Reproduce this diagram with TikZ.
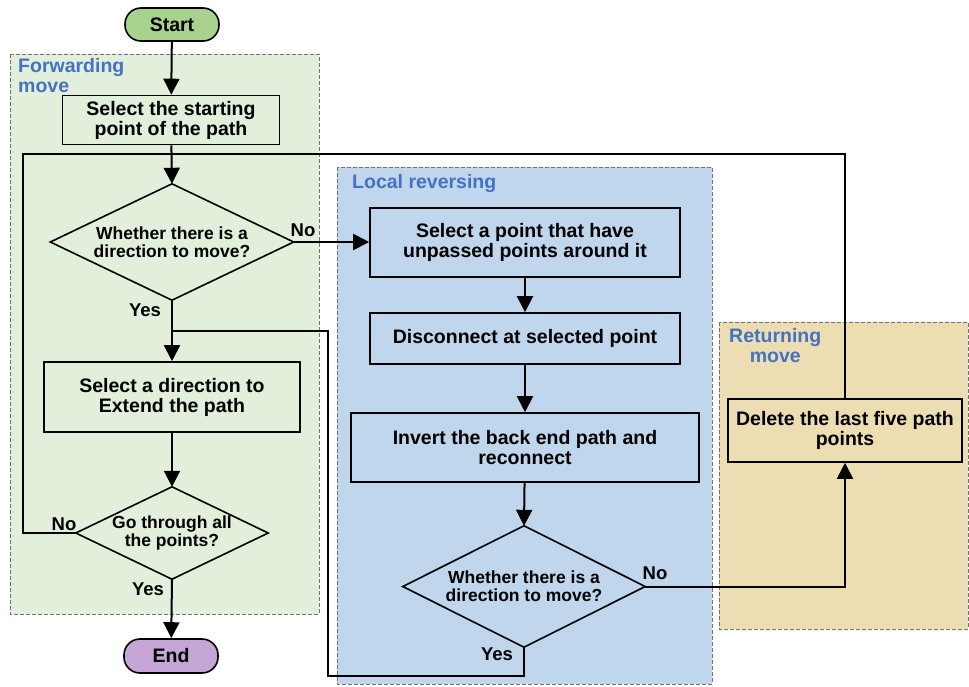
\documentclass[tikz,border=0pt]{standalone}
\usepackage{fontspec}
\setmainfont{Liberation Sans}
\usetikzlibrary{arrows.meta}
\definecolor{fwd}{RGB}{226,239,218}
\definecolor{loc}{RGB}{191,214,236}
\definecolor{ret}{RGB}{236,221,179}
\definecolor{startc}{RGB}{169,209,142}
\definecolor{endc}{RGB}{197,166,214}
\definecolor{lab}{RGB}{68,114,196}
\begin{document}
\begin{tikzpicture}[x=1pt,y=-1pt,
  region/.style={draw=black!55, dash pattern=on 4pt off 2pt, line width=0.8pt},
  proc/.style={draw, line width=1.6pt, align=center, inner sep=0pt,
    font=\bfseries\fontsize{19.5}{20}\selectfont},
  term/.style={draw, line width=1.6pt, rounded corners=16pt, inner sep=0pt,
    minimum width=94pt, minimum height=33pt,
    font=\bfseries\fontsize{19.5}{20}\selectfont},
  dbox/.style={align=center, inner sep=0pt,
    font=\bfseries\fontsize{17.5}{18}\selectfont},
  dline/.style={line width=1.6pt, line join=miter},
  lbl/.style={inner sep=0pt, font=\bfseries\fontsize{18.5}{20}\selectfont},
  rlabel/.style={text=lab, inner sep=0pt, anchor=north west,
    font=\bfseries\fontsize{19.5}{20}\selectfont},
  conn/.style={line width=2pt, line join=miter},
  arr/.style={conn, -{Triangle[width=16pt,length=16pt]}},
]
\useasboundingbox (0,0) rectangle (969,686);
% regions
\filldraw[region, fill=fwd] (10,54) rectangle (319,614);
\filldraw[region, fill=loc] (337,167) rectangle (712,684);
\filldraw[region, fill=ret] (719,322) rectangle (968,629);
\node[rlabel, align=left] (lf) at (18,58) {Forwarding\\move};
\node[rlabel, align=left] (ll) at (352,174) {Local reversing};
\node[rlabel, align=center] (lr) at (729,328) {Returning\\move};
% nodes
\node[term, fill=startc] (start) at (172,24.5) {Start};
\node[proc, minimum width=217pt, minimum height=49pt] (b1) at (171,120) {Select the starting\\point of the path};
\node[dbox, minimum width=243pt, minimum height=116pt] (d1) at (172,242) {Whether there is a\\direction to move?};
\node[proc, minimum width=256pt, minimum height=70pt] (b2) at (172,397) {Select a direction to\\Extend the path};
\node[dbox, minimum width=192pt, minimum height=92pt] (d3) at (172,533) {Go through all\\the points?};
\node[term, fill=endc, minimum height=34pt] (end) at (171,656) {End};
\node[proc, minimum width=310pt, minimum height=69pt] (b3) at (525,242.5) {Select a point that have\\unpassed points around it};
\node[proc, minimum width=310pt, minimum height=51pt] (b4) at (525,338.5) {Disconnect at selected point};
\node[proc, minimum width=348pt, minimum height=69pt] (b5) at (525,447.5) {Invert the back end path and\\reconnect};
\node[dbox, minimum width=242pt, minimum height=121pt] (d2) at (524,586.5) {Whether there is a\\direction to move?};
\node[proc, minimum width=234pt, minimum height=63pt] (b6) at (845,430.5) {Delete the last five path\\points};
% diamonds
\foreach \d in {d1,d2,d3}
  \draw[dline] (\d.north) -- (\d.east) -- (\d.south) -- (\d.west) -- cycle;
% labels
\node[lbl] (n1) at (303,230) {No};
\node[lbl] (y1) at (145,310) {Yes};
\node[lbl] (n3) at (64,524) {No};
\node[lbl] (y3) at (148,589) {Yes};
\node[lbl] (n2) at (655,573) {No};
\node[lbl] (y2) at (497,654) {Yes};
% connectors
\coordinate (lp) at (23,154);
\coordinate (j1) at (172,331);
\coordinate (yc) at (328,676);
\draw[arr] (start) -- (b1);
\draw[arr] (b1) -- (d1.north);
\draw[arr] (d1.east) -- (d1.east -| b3.west);
\draw[arr] (d1.south) -- (b2);
\draw[arr] (b2) -- (d3.north);
\draw[arr] (d3.south) -- (end);
\draw[arr] (b3) -- (b4);
\draw[arr] (b4) -- (b5);
\draw[arr] (b5) -- (d2.north);
\draw[arr] (d2.east) -- (d2.east -| b6.south) -- (b6.south);
\draw[conn] (b6.north) |- (lp) |- (d3.west);
\draw[conn] (d2.south) |- (yc) |- (j1);
\end{tikzpicture}
\end{document}
